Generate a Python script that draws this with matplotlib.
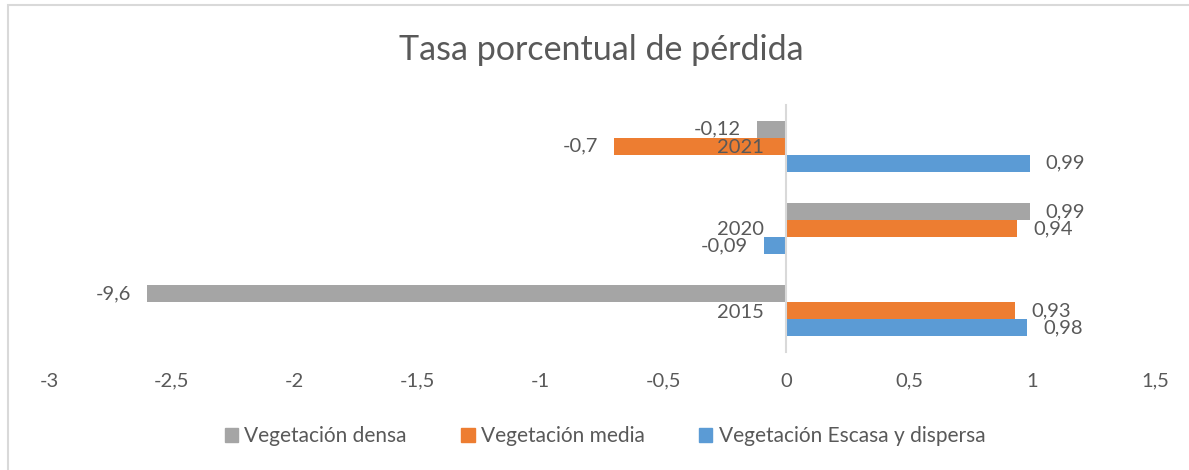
import matplotlib.pyplot as plt
from matplotlib.patches import Rectangle
from matplotlib.ticker import FuncFormatter

YEARS = ["2015", "2020", "2021"]
DENSA = [-2.6, 0.99, -0.12]
MEDIA = [0.93, 0.94, -0.7]
ESCASA = [0.98, -0.09, 0.99]
DENSA_LABELS = ["-9,6", "0,99", "-0,12"]
MEDIA_LABELS = ["0,93", "0,94", "-0,7"]
ESCASA_LABELS = ["0,98", "-0,09", "0,99"]
SERIES_NAMES = ["Vegetación densa", "Vegetación media",
                "Vegetación Escasa y dispersa"]

GRAY = "#A5A5A5"
ORANGE = "#ED7D31"
BLUE = "#5B9BD5"
TEXT = "#595959"
LINE = "#D9D9D9"

plt.rcParams["font.family"] = ["Lato", "DejaVu Sans"]


def comma(x, _pos):
    s = f"{x:g}"
    return s.replace(".", ",")


def run() -> None:
    fig = plt.figure(figsize=(11.89, 4.70), dpi=100)
    ax = fig.add_axes((49 / 1189, 1 - 352 / 470, 1106 / 1189, 247 / 470))

    # chart area border
    fig.patches.append(Rectangle((8 / 1189, -0.1), 1.2, 1 - 5 / 470 + 0.1,
                                 transform=fig.transFigure, fill=False,
                                 edgecolor=LINE, linewidth=1.5))

    w = 17 / 82
    ys = list(range(len(YEARS)))
    b_esc = ax.barh([y - w for y in ys], ESCASA, height=w, color=BLUE)
    b_med = ax.barh(ys, MEDIA, height=w, color=ORANGE)
    b_den = ax.barh([y + w for y in ys], DENSA, height=w, color=GRAY)

    for bars, labels in ((b_esc, ESCASA_LABELS), (b_med, MEDIA_LABELS),
                         (b_den, DENSA_LABELS)):
        ax.bar_label(bars, labels=labels, padding=11.5, fontsize=14.5,
                     color=TEXT)

    ax.set_xlim(-3, 1.5)
    ax.set_ylim(-0.5, 2.5)
    ax.set_xticks([-3, -2.5, -2, -1.5, -1, -0.5, 0, 0.5, 1, 1.5])
    ax.xaxis.set_major_formatter(FuncFormatter(comma))
    ax.set_yticks(ys, labels=YEARS)
    ax.tick_params(axis="x", length=0, pad=15, labelsize=14.5,
                   labelcolor=TEXT)
    ax.tick_params(axis="y", length=0, pad=16, labelsize=14.5,
                   labelcolor=TEXT)

    for side in ("top", "right", "bottom"):
        ax.spines[side].set_visible(False)
    ax.spines["left"].set_position(("data", 0))
    ax.spines["left"].set_color(LINE)
    ax.spines["left"].set_linewidth(1.5)

    fig.text(0.506, 1 - 50 / 470, "Tasa porcentual de pérdida",
             ha="center", va="center", fontsize=24.5, color=TEXT)

    handles = [Rectangle((0, 0), 1, 1, color=c) for c in (GRAY, ORANGE, BLUE)]
    fig.legend(handles, SERIES_NAMES, loc="center",
               bbox_to_anchor=(605 / 1189, 1 - 436 / 470), ncol=3,
               frameon=False, fontsize=15, labelcolor=TEXT,
               handlelength=0.65, handleheight=0.65, handletextpad=0.3,
               columnspacing=2.6)

    fig.savefig("out.png", dpi=100)
    plt.close(fig)


if __name__ == "__main__":
    run()
